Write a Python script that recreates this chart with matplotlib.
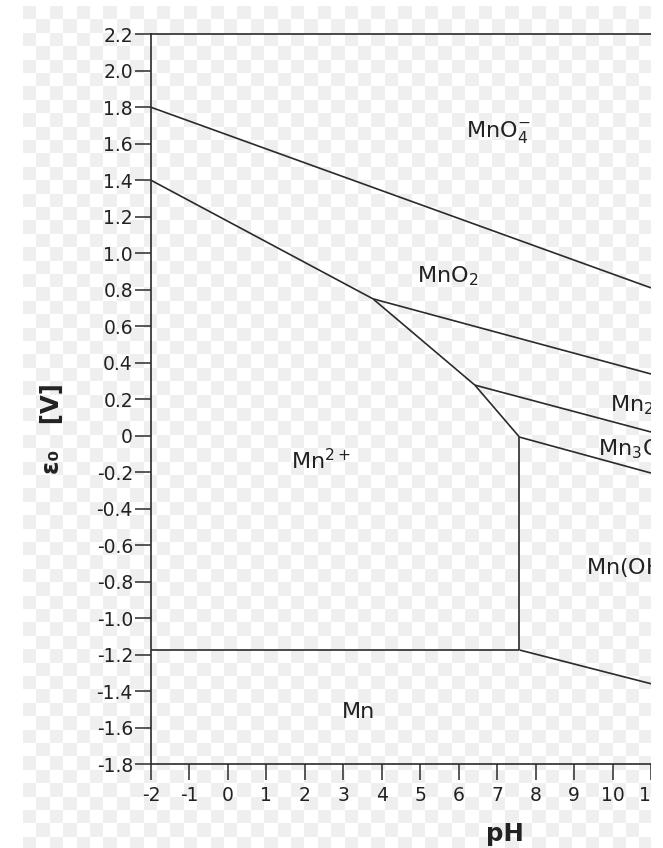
import numpy as np
import matplotlib
matplotlib.use('Agg')
import matplotlib.pyplot as plt
from matplotlib.colors import ListedColormap
from matplotlib.patches import Rectangle

plt.rcParams['axes.unicode_minus'] = False
plt.rcParams['font.family'] = ['DejaVu Sans']
plt.rcParams['mathtext.fontset'] = 'dejavusans'

# ticks of the axes
ph_ticks = [-2, -1, 0, 1, 2, 3, 4, 5, 6, 7, 8, 9, 10, 11]
e_ticks = [2.2, 2.0, 1.8, 1.6, 1.4, 1.2, 1.0, 0.8, 0.6, 0.4, 0.2, 0.0,
           -0.2, -0.4, -0.6, -0.8, -1.0, -1.2, -1.4, -1.6, -1.8]
e_tick_labels = ['2.2', '2.0', '1.8', '1.6', '1.4', '1.2', '1.0', '0.8',
                 '0.6', '0.4', '0.2', '0', '-0.2', '-0.4', '-0.6', '-0.8',
                 '-1.0', '-1.2', '-1.4', '-1.6', '-1.8']

# phase boundaries (pH, E in V)
mno4_mno2_ph = [-2.0, 11.0]
mno4_mno2_e = [1.80, 0.81]
mno2_mn2_ph = [-2.0, 3.77]
mno2_mn2_e = [1.40, 0.75]
mn2o3_mn2_ph = [3.77, 6.42]
mn2o3_mn2_e = [0.75, 0.277]
mn3o4_mn2_ph = [6.42, 7.58]
mn3o4_mn2_e = [0.277, -0.008]
mnoh2_mn2_ph = [7.58, 7.58]
mnoh2_mn2_e = [-0.008, -1.175]
mn_mn2_ph = [-2.0, 7.58]
mn_mn2_e = [-1.175, -1.175]
mno2_mn2o3_ph = [3.77, 11.0]
mno2_mn2o3_e = [0.75, 0.338]
mn2o3_mn3o4_ph = [6.42, 11.0]
mn2o3_mn3o4_e = [0.277, 0.02]
mn3o4_mnoh2_ph = [7.58, 11.0]
mn3o4_mnoh2_e = [-0.008, -0.205]
mnoh2_mn_ph = [7.58, 11.0]
mnoh2_mn_e = [-1.175, -1.36]

# species names and where they sit (left edge pH, baseline E)
species = ['MnO$_4^{-}$', 'MnO$_2$', 'Mn$^{2+}$', 'Mn',
           'Mn$_2$O$_3$', 'Mn$_3$O$_4$', 'Mn(OH)$_2$']
species_ph = [6.19, 4.92, 1.63, 2.96, 9.93, 9.63, 9.31]
species_e = [1.636, 0.84, -0.183, -1.547, 0.133, -0.106, -0.762]

W, H = 663, 848
fig = plt.figure(figsize=(W / 100, H / 100), dpi=100)

# transparent-look checkerboard behind the plot
sq = 13.4
bg = fig.add_axes([23 / W, 0, 628 / W, 842 / H], zorder=0)
n_rows, n_cols = int(np.ceil(842 / sq)), int(np.ceil(628 / sq))
checks = np.add.outer(np.arange(n_rows), np.arange(n_cols)) % 2 == 0
bg.imshow(checks, cmap=ListedColormap(['white', '#efefef']),
          extent=(0, n_cols * sq, n_rows * sq, 0), interpolation='nearest',
          aspect='auto')
bg.set_xlim(0, 628)
bg.set_ylim(842, 0)
bg.axis('off')

# main axes: x from 151 to 651 px, y from 34.3 to 764 px
ax = fig.add_axes([151 / W, (H - 764) / H, 500 / W, 729.7 / H], zorder=1)
ax.patch.set_alpha(0)
line_kw = dict(color='#2b2b2b', lw=1.2, solid_capstyle='butt')
for xs, ys in [(mno4_mno2_ph, mno4_mno2_e), (mno2_mn2_ph, mno2_mn2_e),
               (mn2o3_mn2_ph, mn2o3_mn2_e), (mn3o4_mn2_ph, mn3o4_mn2_e),
               (mnoh2_mn2_ph, mnoh2_mn2_e), (mn_mn2_ph, mn_mn2_e),
               (mno2_mn2o3_ph, mno2_mn2o3_e), (mn2o3_mn3o4_ph, mn2o3_mn3o4_e),
               (mn3o4_mnoh2_ph, mn3o4_mnoh2_e), (mnoh2_mn_ph, mnoh2_mn_e)]:
    ax.plot(xs, ys, **line_kw)

for name, x, y in zip(species, species_ph, species_e):
    ax.text(x, y, name, fontsize=16, color='#222222', ha='left',
            va='baseline', clip_on=True)

ax.set_xlim(-2, 11)
ax.set_ylim(-1.8, 2.2)
ax.set_xticks(ph_ticks)
ax.set_xticklabels([str(t) for t in ph_ticks])
ax.set_yticks(e_ticks)
ax.set_yticklabels(e_tick_labels)
ax.spines['right'].set_visible(False)
for s in ['left', 'bottom', 'top']:
    ax.spines[s].set_color('#2b2b2b')
    ax.spines[s].set_linewidth(1.2)
ax.tick_params(direction='out', length=11.5, width=1.1, color='#2b2b2b',
               labelsize=13.5, labelcolor='#222222')
ax.tick_params(axis='y', pad=1.5)
ax.tick_params(axis='x', pad=4.5)

fig.text(505 / W, 1 - 841 / H, 'pH', fontsize=17.6, fontweight='bold',
         ha='center', va='baseline', color='#222222')
fig.text(52 / W, 1 - 429 / H, 'ε\u2080   [V]', fontsize=17.6,
         fontweight='bold', rotation=90, ha='center', va='center',
         color='#222222')

# the source picture is cropped at x = 651 px with a white strip after it
fig.add_artist(Rectangle((651 / W, 0), 12 / W, 1, transform=fig.transFigure,
                         facecolor='white', edgecolor='none', zorder=10))

fig.savefig('out.png', dpi=100, facecolor='white')
